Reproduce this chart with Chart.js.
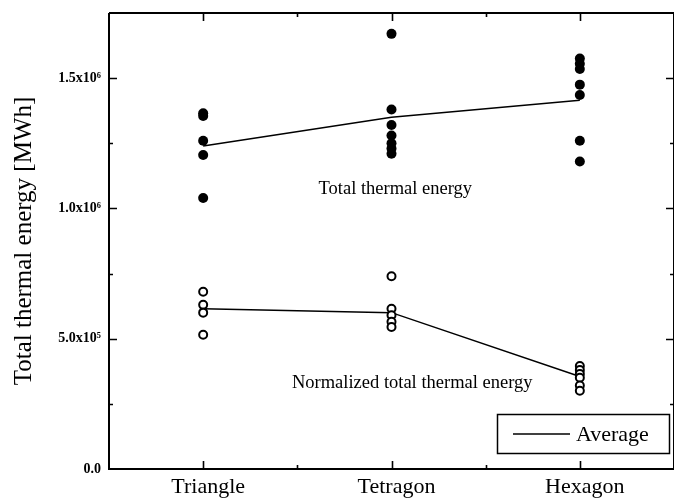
<!DOCTYPE html>
<html>
<head>
<meta charset="utf-8">
<script src="https://cdn.jsdelivr.net/npm/chart.js@4.4.1/dist/chart.umd.min.js"></script>
<style>
  html, body { margin: 0; padding: 0; background: #fff; }
  #wrap { width: 674px; height: 499px; }
</style>
</head>
<body>
<div id="wrap"><canvas id="energyChart" width="674" height="499"></canvas></div>
<script>
// Categories on the x axis (placed at x = 1, 2, 3)
const categories = ['Triangle', 'Tetragon', 'Hexagon'];

// Total thermal energy per layout [MWh]
const triangleTotal = [1365000, 1355000, 1260000, 1205000, 1040000];
const tetragonTotal = [1670000, 1380000, 1320000, 1280000, 1250000, 1230000, 1210000];
const hexagonTotal = [1575000, 1555000, 1535000, 1475000, 1435000, 1260000, 1180000];
const averageTotal = [1240000, 1350000, 1415000];

// Normalized total thermal energy per layout [MWh]
const triangleNorm = [680000, 630000, 600000, 515000];
const tetragonNorm = [740000, 615000, 590000, 565000, 545000];
const hexagonNorm = [395000, 380000, 365000, 350000, 320000, 300000];
const averageNorm = [615000, 600000, 355000];

// Y axis tick labels
const yTickLabels = { 0: '0.0', 500000: '5.0x10⁵', 1000000: '1.0x10⁶', 1500000: '1.5x10⁶' };

const SERIF = '"Liberation Serif", "Times New Roman", serif';

function toPoints(groups) {
  const pts = [];
  groups.forEach((values, i) => {
    values.forEach(v => pts.push({ x: i + 1, y: v }));
  });
  return pts;
}

function avgPoints(values) {
  return values.map((v, i) => ({ x: i + 1, y: v }));
}

// Frame, inward ticks, text labels and the legend box
const framePlugin = {
  id: 'frame',
  afterDraw(chart) {
    const ctx = chart.ctx;
    const area = chart.chartArea;
    const xs = chart.scales.x;
    const ys = chart.scales.y;
    ctx.save();
    ctx.strokeStyle = '#000';
    ctx.lineCap = 'butt';

    // axes box
    ctx.lineWidth = 2;
    ctx.beginPath();
    ctx.moveTo(area.left, area.top);
    ctx.lineTo(area.left, area.bottom);
    ctx.lineTo(area.right, area.bottom);
    ctx.moveTo(area.left, area.top);
    ctx.lineTo(area.right, area.top);
    ctx.lineTo(area.right, area.bottom);
    ctx.stroke();

    // y ticks, left and right
    for (let v = 250000; v < 1750000; v += 250000) {
      const y = Math.round(ys.getPixelForValue(v)) + 0.5;
      const len = v % 500000 === 0 ? 8 : 4;
      ctx.lineWidth = 1.6;
      ctx.beginPath();
      ctx.moveTo(area.left, y);
      ctx.lineTo(area.left + len, y);
      ctx.moveTo(area.right, y);
      ctx.lineTo(area.right - len, y);
      ctx.stroke();
    }

    // x ticks, bottom and top
    for (let v = 1; v < 3.5; v += 0.5) {
      const x = Math.round(xs.getPixelForValue(v)) + 0.5;
      const len = Number.isInteger(v) ? 8 : 4;
      ctx.lineWidth = 1.6;
      ctx.beginPath();
      ctx.moveTo(x, area.bottom);
      ctx.lineTo(x, area.bottom - len);
      ctx.moveTo(x, area.top);
      ctx.lineTo(x, area.top + len);
      ctx.stroke();
    }

    // series labels
    ctx.fillStyle = '#000';
    ctx.font = '18.5px ' + SERIF;
    ctx.textAlign = 'center';
    ctx.textBaseline = 'middle';
    ctx.fillText('Total thermal energy', xs.getPixelForValue(2.02), ys.getPixelForValue(1075000));
    ctx.fillText('Normalized total thermal energy', xs.getPixelForValue(2.11), ys.getPixelForValue(328000));

    // legend box
    const boxW = 172, boxH = 39;
    const bx = area.right - 177, by = area.bottom - 55;
    ctx.lineWidth = 1.5;
    ctx.strokeRect(bx + 0.5, by + 0.5, boxW, boxH);
    ctx.lineWidth = 1.3;
    ctx.beginPath();
    ctx.moveTo(bx + 16, by + 20);
    ctx.lineTo(bx + 73, by + 20);
    ctx.stroke();
    ctx.font = '22px ' + SERIF;
    ctx.textAlign = 'left';
    ctx.fillText('Average', bx + 79, by + 21);
    ctx.restore();
  }
};

const ctx = document.getElementById('energyChart').getContext('2d');
const energyChart = new Chart(ctx, {
  data: {
    datasets: [
      {
        type: 'scatter',
        label: 'Total thermal energy',
        data: toPoints([triangleTotal, tetragonTotal, hexagonTotal]),
        backgroundColor: '#000',
        borderColor: '#000',
        pointRadius: 5,
        borderWidth: 0
      },
      {
        type: 'scatter',
        label: 'Normalized total thermal energy',
        data: toPoints([triangleNorm, tetragonNorm, hexagonNorm]),
        backgroundColor: '#fff',
        borderColor: '#000',
        pointRadius: 4,
        borderWidth: 2
      },
      {
        type: 'line',
        label: 'Average',
        data: avgPoints(averageTotal),
        borderColor: '#000',
        borderWidth: 1.5,
        pointRadius: 0,
        fill: false,
        tension: 0
      },
      {
        type: 'line',
        label: 'Average',
        data: avgPoints(averageNorm),
        borderColor: '#000',
        borderWidth: 1.5,
        pointRadius: 0,
        fill: false,
        tension: 0
      }
    ]
  },
  options: {
    responsive: false,
    animation: false,
    events: [],
    layout: { autoPadding: false, padding: { top: 13, right: 0, left: 0, bottom: 0 } },
    plugins: {
      legend: { display: false },
      tooltip: { enabled: false }
    },
    scales: {
      x: {
        type: 'linear',
        min: 0.5,
        max: 3.5,
        afterFit(scale) {
          scale.height = 30;
          scale.paddingLeft = 0;
          scale.paddingRight = 0;
        },
        afterBuildTicks(scale) {
          scale.ticks = [1, 2, 3].map(v => ({ value: v }));
        },
        grid: { display: false, drawTicks: false },
        border: { display: false },
        ticks: {
          padding: 5,
          labelOffset: 5,
          color: '#000',
          font: { family: SERIF, size: 22 },
          callback: value => categories[value - 1] || ''
        }
      },
      y: {
        type: 'linear',
        min: 0,
        max: 1750000,
        afterFit(scale) {
          scale.width = 109;
          scale.paddingTop = 0;
          scale.paddingBottom = 0;
        },
        afterBuildTicks(scale) {
          scale.ticks = [0, 500000, 1000000, 1500000].map(v => ({ value: v }));
        },
        grid: { display: false, drawTicks: false },
        border: { display: false },
        ticks: {
          padding: 8,
          color: '#000',
          font: { family: SERIF, size: 14, weight: 'bold' },
          callback: value => yTickLabels[value] || ''
        },
        title: {
          display: true,
          text: 'Total thermal energy [MWh]',
          color: '#000',
          font: { family: SERIF, size: 25 },
          padding: { top: 9, bottom: 0 }
        }
      }
    }
  },
  plugins: [framePlugin]
});
</script>
</body>
</html>
